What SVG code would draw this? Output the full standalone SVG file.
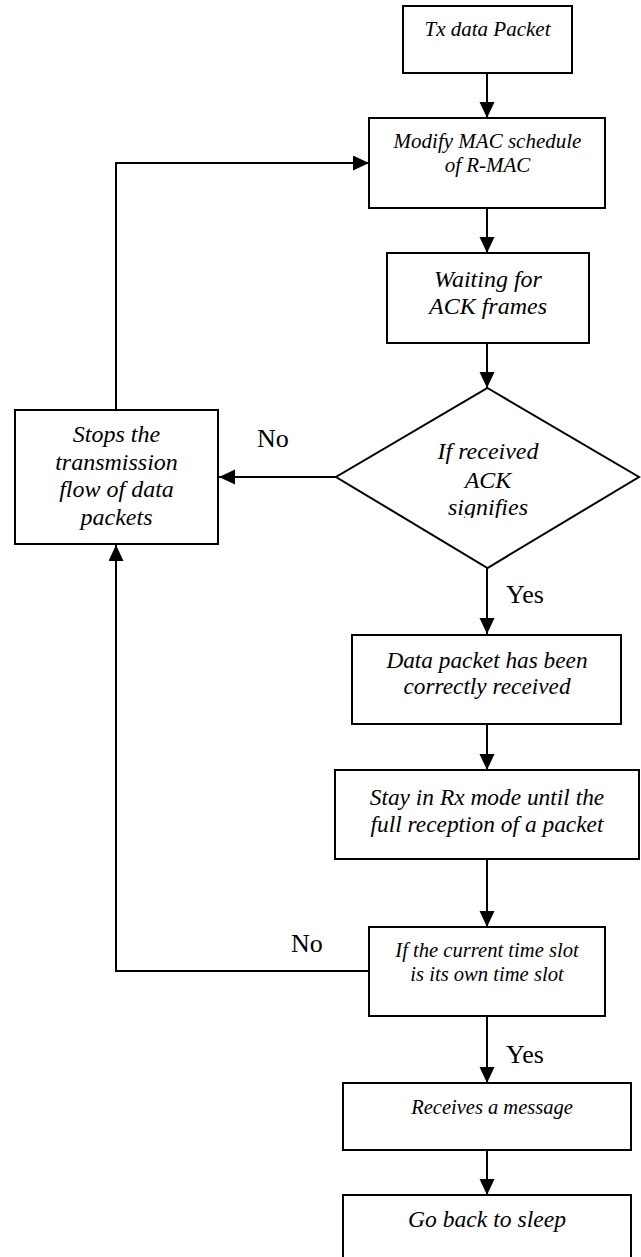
<svg xmlns="http://www.w3.org/2000/svg" width="641" height="1257" viewBox="0 0 641 1257">
<style>
.box{fill:#fff;stroke:#000;stroke-width:2}
.ln{fill:none;stroke:#000;stroke-width:2}
.t{font-family:'Liberation Serif',Tinos,'Nimbus Roman','Times New Roman',Times,'DejaVu Serif',serif;font-style:italic;text-anchor:middle;fill:#000}
.lb{font-family:'Liberation Serif',Tinos,'Nimbus Roman','Times New Roman',Times,'DejaVu Serif',serif;font-size:26px;fill:#000}
</style>
<defs>
<marker id="ah" markerUnits="userSpaceOnUse" markerWidth="16" markerHeight="16" refX="16" refY="7.5" orient="auto">
<path d="M0,0 L16,7.5 L0,15 z" fill="#000"/>
</marker>
<clipPath id="dclip"><rect x="330" y="380" width="320" height="138"/></clipPath>
</defs>
<rect width="641" height="1257" fill="#fff"/>

<g id="connectors">
<line class="ln" x1="487" y1="73" x2="487" y2="118" marker-end="url(#ah)"/>
<line class="ln" x1="487" y1="208" x2="487" y2="253" marker-end="url(#ah)"/>
<line class="ln" x1="487" y1="343" x2="487" y2="388" marker-end="url(#ah)"/>
<line class="ln" x1="336" y1="477" x2="219" y2="477" marker-end="url(#ah)"/>
<line class="ln" x1="487" y1="568" x2="487" y2="634" marker-end="url(#ah)"/>
<line class="ln" x1="487" y1="724" x2="487" y2="770" marker-end="url(#ah)"/>
<line class="ln" x1="487" y1="859" x2="487" y2="927" marker-end="url(#ah)"/>
<line class="ln" x1="487" y1="1016" x2="487" y2="1083" marker-end="url(#ah)"/>
<line class="ln" x1="487" y1="1150" x2="487" y2="1195" marker-end="url(#ah)"/>
<polyline class="ln" points="116,410 116,163 369,163" marker-end="url(#ah)"/>
<polyline class="ln" points="369,971 116,971 116,545" marker-end="url(#ah)"/>
<text class="lb" x="257" y="447">No</text>
<text class="lb" x="506" y="603">Yes</text>
<text class="lb" x="291" y="952">No</text>
<text class="lb" x="506" y="1063">Yes</text>
</g>

<g id="n1">
<rect class="box" x="403" y="6" width="169" height="67"/>
<text class="t" x="487.5" y="36" font-size="21">Tx data Packet</text>
</g>
<g id="n2">
<rect class="box" x="369" y="118" width="236" height="90"/>
<text class="t" x="487.5" y="148" font-size="21">Modify MAC schedule</text>
<text class="t" x="487.5" y="172" font-size="21">of R-MAC</text>
</g>
<g id="n3">
<rect class="box" x="387" y="253" width="202" height="90"/>
<text class="t" x="488" y="287" font-size="24">Waiting for</text>
<text class="t" x="488" y="314" font-size="24">ACK frames</text>
</g>
<g id="n4">
<polygon class="box" points="487.5,388 639,477 487.5,568 336,477"/>
<g clip-path="url(#dclip)">
<text class="t" x="488" y="459" font-size="24">If received</text>
<text class="t" x="488" y="488" font-size="24">ACK</text>
<text class="t" x="488" y="515" font-size="24">signifies</text>
</g>
</g>
<g id="n5">
<rect class="box" x="15" y="410" width="203" height="134"/>
<text class="t" x="116.5" y="442" font-size="24">Stops the</text>
<text class="t" x="116.5" y="470" font-size="24">transmission</text>
<text class="t" x="116.5" y="497" font-size="24">flow of data</text>
<text class="t" x="116.5" y="525" font-size="24">packets</text>
</g>
<g id="n6">
<rect class="box" x="352" y="635" width="269" height="89"/>
<text class="t" x="487" y="668" font-size="23.3">Data packet has been</text>
<text class="t" x="487" y="694" font-size="23.3">correctly received</text>
</g>
<g id="n7">
<rect class="box" x="335" y="770" width="304" height="89"/>
<text class="t" x="487" y="805" font-size="23.4">Stay in Rx mode until the</text>
<text class="t" x="487" y="832" font-size="23.4">full reception of a packet</text>
</g>
<g id="n8">
<rect class="box" x="369" y="927" width="236" height="89"/>
<text class="t" x="487" y="957" font-size="20.6">If the current time slot</text>
<text class="t" x="487" y="981" font-size="20.6">is its own time slot</text>
</g>
<g id="n9">
<rect class="box" x="343" y="1083" width="288" height="67"/>
<text class="t" x="492" y="1114" font-size="20.5">Receives a message</text>
</g>
<g id="n10">
<rect class="box" x="343" y="1195" width="288" height="70"/>
<text class="t" x="487" y="1227" font-size="23.6">Go back to sleep</text>
</g>
</svg>
